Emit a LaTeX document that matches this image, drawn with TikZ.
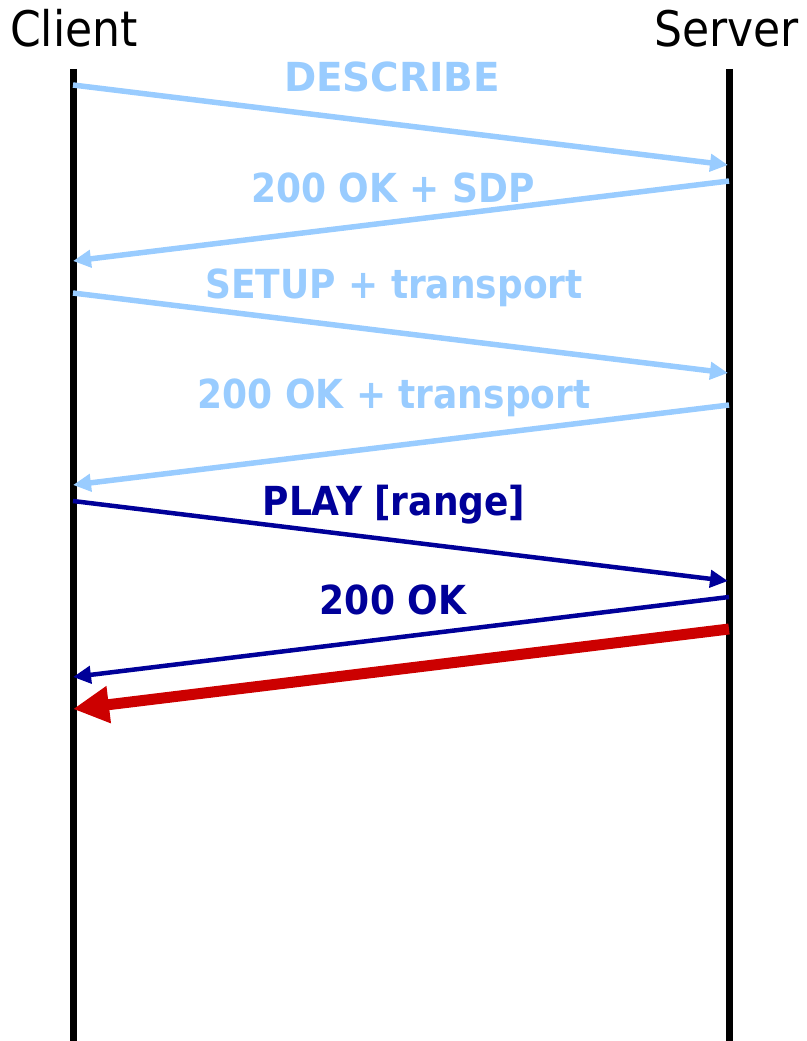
\documentclass[tikz,border=0pt]{standalone}
\usepackage{fontspec}
\setmainfont{DejaVu Sans Condensed}
\usetikzlibrary{arrows.meta}
\definecolor{reqlight}{HTML}{99CCFF}
\definecolor{reqdark}{HTML}{000099}
\definecolor{mediared}{HTML}{CC0000}
\begin{document}
\begin{tikzpicture}[x=1pt,y=-1pt,
  lifeline/.style={line width=7pt,black},
  party/.style={font=\fontsize{49}{56}\selectfont,inner sep=0pt,anchor=base west},
  msg/.style={font=\fontsize{40}{48}\selectfont\bfseries,inner sep=0pt,anchor=base},
  lightmsg/.style={line width=5.5pt,reqlight,-{Triangle[length=18pt,width=17pt]}},
  darkmsg/.style={line width=4.5pt,reqdark,-{Triangle[length=18pt,width=17pt]}},
  streammsg/.style={line width=11pt,mediared,-{Triangle[length=36pt,width=35pt]}}]
\useasboundingbox (0,0) rectangle (806,1041);

% participants
\node[party] (client) at (10,47) {Client};
\node[party] (server) at (654,47) {Server};

% lifelines
\coordinate (ctop) at (73,69);
\coordinate (cbot) at (73,1041);
\coordinate (stop) at (729,69);
\coordinate (sbot) at (729,1041);
\draw[lifeline] (ctop) -- (cbot);
\draw[lifeline] (stop) -- (sbot);

% message end points on the lifelines
\coordinate (c1) at (73,85);   \coordinate (s1) at (728,165);
\coordinate (s2) at (729,181); \coordinate (c2) at (73,261);
\coordinate (c3) at (73,293);  \coordinate (s3) at (728,373);
\coordinate (s4) at (729,405); \coordinate (c4) at (73,485);
\coordinate (c5) at (73,501);  \coordinate (s5) at (728,581);
\coordinate (s6) at (729,597); \coordinate (c6) at (73,677);
\coordinate (s7) at (729,629); \coordinate (c7) at (73,709);

% RTSP exchange
\draw[lightmsg] (c1) -- (s1);
\draw[lightmsg] (s2) -- (c2);
\draw[lightmsg] (c3) -- (s3);
\draw[lightmsg] (s4) -- (c4);
\draw[darkmsg] (c5) -- (s5);
\draw[darkmsg] (s6) -- (c6);
\draw[streammsg] (s7) -- (c7);

% message labels
\node[msg,reqlight,xscale=1.08] (l1) at (392,92) {DESCRIBE};
\node[msg,reqlight] (l2) at (393,202) {200 OK + SDP};
\node[msg,reqlight] (l3) at (394,298) {SETUP + transport};
\node[msg,reqlight] (l4) at (394,408) {200 OK + transport};
\node[msg,reqdark] (l5) at (394,515) {PLAY [range]};
\node[msg,reqdark] (l6) at (393,614) {200 OK};
\end{tikzpicture}
\end{document}
